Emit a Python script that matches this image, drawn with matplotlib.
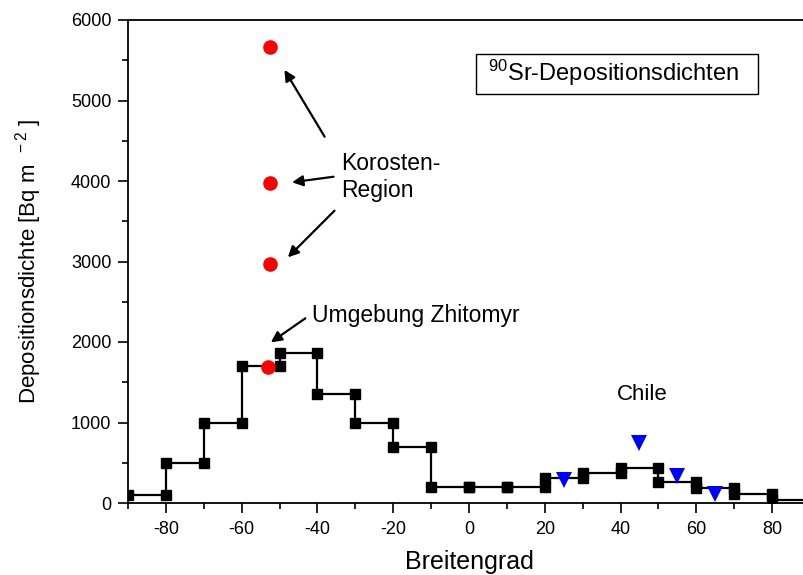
import matplotlib
matplotlib.use("Agg")
import matplotlib.pyplot as plt
import numpy as np
from matplotlib.ticker import MultipleLocator
from matplotlib.patches import Rectangle

plt.rcParams['font.family'] = ['Liberation Sans', 'DejaVu Sans']
plt.rcParams['mathtext.fontset'] = 'custom'
plt.rcParams['mathtext.rm'] = 'Liberation Sans'
plt.rcParams['mathtext.it'] = 'Liberation Sans:italic'
plt.rcParams['mathtext.bf'] = 'Liberation Sans:bold'
plt.rcParams['axes.unicode_minus'] = False

# Latitude band edges and band deposition values (Bq m^-2)
band_edges = [-90, -80, -70, -60, -50, -40, -30, -20, -10, 0, 10, 20, 30, 40, 50, 60, 70, 80, 90]
band_values = [100, 500, 1000, 1700, 1860, 1350, 1000, 700, 200, 200, 195, 315, 377, 432, 257, 183, 112, 40]

# Korosten region + Zhitomyr surroundings (red circles)
red_lat = [-52.5, -52.5, -52.5, -53.0]
red_val = [5670, 3970, 2970, 1690]

# Chile (blue triangles)
chile_lat = [25, 45, 55, 65]
chile_val = [290, 740, 340, 110]

fig = plt.figure(figsize=(8.04, 5.75), dpi=100)
ax = fig.add_axes([128/804, 1-503/575, 682/804, 483/575])

# step line
step_x = band_edges
step_y = band_values + [band_values[-1]]
ax.step(step_x, step_y, where='post', color='black', lw=1.6, zorder=2)
mx = []
my = []
for i, v in enumerate(band_values):
    mx += [band_edges[i], band_edges[i + 1]]
    my += [v, v]
ax.plot(mx, my, ls='none', marker='s', ms=7, color='black', zorder=3)

ax.plot(red_lat, red_val, ls='none', marker='o', ms=10.5, color='#ff0000',
        markeredgewidth=0, zorder=4)
ax.plot(chile_lat, chile_val, ls='none', marker='v', ms=12, color='#0000ff',
        markeredgewidth=0, zorder=4)

ax.set_xlim(-90, 90)
ax.set_ylim(0, 6000)
ax.xaxis.set_minor_locator(MultipleLocator(10))
ax.yaxis.set_major_locator(MultipleLocator(1000))
ax.yaxis.set_minor_locator(MultipleLocator(500))
ax.set_xticks([-80, -60, -40, -20, 0, 20, 40, 60, 80])
ax.tick_params(axis='both', which='major', direction='out', length=7, width=1.2,
               labelsize=13, top=False, right=False)
ax.tick_params(axis='both', which='minor', direction='out', length=4, width=1.2,
               top=False, right=False)
ax.tick_params(axis='x', pad=6)
ax.tick_params(axis='y', pad=5)
for s in ax.spines.values():
    s.set_linewidth(1.3)

ax.set_xlabel('Breitengrad', fontsize=18, labelpad=8.5)
ax.set_ylabel(r'Depositionsdichte [Bq m$^{\ \ -2}$ ]', fontsize=16, labelpad=19)

# legend-like box
ax.add_patch(Rectangle((1.8, 5077), 74.4, 501, fc='white', ec='black', lw=1.0, zorder=5))
ax.text(38.0, 5242, r'$^{90}$Sr-Depositionsdichten', fontsize=17, ha='center',
        va='baseline', zorder=6)

arrow_kw = dict(arrowstyle='-|>', color='black', lw=1.6, mutation_scale=16,
                shrinkA=0, shrinkB=0)
ax.annotate('', xy=(-48.7, 5380), xytext=(-38.1, 4550), arrowprops=arrow_kw)
ax.annotate('', xy=(-46.7, 3984), xytext=(-35.75, 4053), arrowprops=arrow_kw)
ax.annotate('', xy=(-47.8, 3052), xytext=(-35.5, 3631), arrowprops=arrow_kw)
ax.annotate('', xy=(-52.3, 1996), xytext=(-43.2, 2294), arrowprops=arrow_kw)

ax.text(-33.7, 4050, 'Korosten-\nRegion', fontsize=16.5, ha='left', va='center')
ax.text(-41.4, 2252, 'Umgebung Zhitomyr', fontsize=16.5, ha='left', va='baseline')
ax.text(45.7, 1280, 'Chile', fontsize=16, ha='center', va='baseline')

fig.savefig('out.png', dpi=100)
